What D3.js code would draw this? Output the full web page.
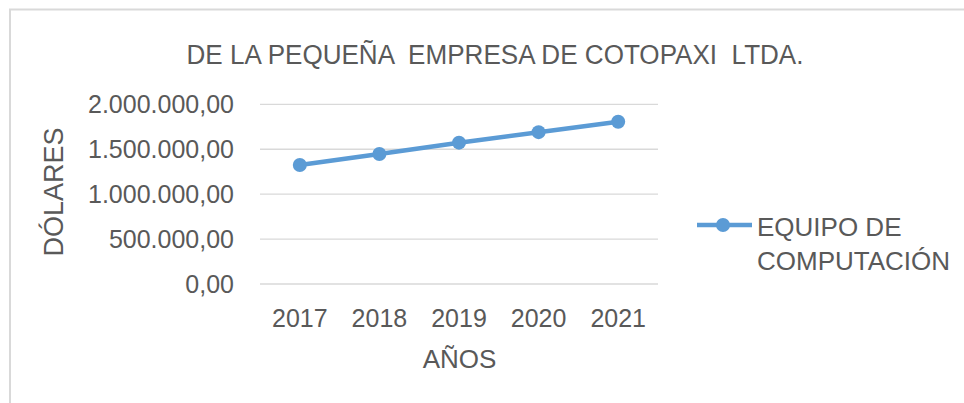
<!DOCTYPE html>
<html>
<head>
<meta charset="utf-8">
<script src="https://cdn.jsdelivr.net/npm/d3@7"></script>
<style>
  body { margin: 0; background: #ffffff; }
  text { font-family: "Liberation Sans", Arial, sans-serif; fill: #595959; }
  .title { white-space: pre; }
</style>
</head>
<body>
<svg id="chart"></svg>
<script>
// data
var years = ["2017", "2018", "2019", "2020", "2021"];
var equipo = [1325000, 1447000, 1573000, 1690000, 1806000];
var yTicks = [0, 500000, 1000000, 1500000, 2000000];
var seriesName = ["EQUIPO DE", "COMPUTACIÓN"];
var chartTitle = "DE LA PEQUEÑA  EMPRESA DE COTOPAXI  LTDA.";

var screen = { width: 964, height: 403 };
var plot = { left: 260, right: 658, top: 104.3, bottom: 284 };

var svg = d3.select("#chart")
  .attr("width", screen.width)
  .attr("height", screen.height);

// outer frame (only top & left visible)
svg.append("path")
  .attr("d", "M10,403 L10,9.5 L964,9.5")
  .attr("fill", "none")
  .attr("stroke", "#d9d9d9")
  .attr("stroke-width", 2);

var xScale = d3.scaleBand().domain(years).range([plot.left, plot.right]);
var yScale = d3.scaleLinear().domain([0, 2000000]).range([plot.bottom, plot.top]);

var es = d3.formatLocale({ decimal: ",", thousands: ".", grouping: [3], currency: ["$", ""] });
var fmt = es.format(",.2f");

// gridlines
svg.append("g").classed("grid", true)
  .selectAll("line")
  .data(yTicks)
  .enter()
  .append("line")
  .attr("x1", plot.left)
  .attr("x2", plot.right)
  .attr("y1", function (d) { return yScale(d); })
  .attr("y2", function (d) { return yScale(d); })
  .attr("stroke", "#d9d9d9")
  .attr("stroke-width", 1.3);

// y tick labels
svg.append("g").classed("ylabels", true)
  .selectAll("text")
  .data(yTicks)
  .enter()
  .append("text")
  .text(function (d) { return fmt(d); })
  .attr("x", 234)
  .attr("y", function (d) { return yScale(d) + 8.8; })
  .attr("text-anchor", "end")
  .attr("font-size", 25);

// x tick labels
svg.append("g").classed("xlabels", true)
  .selectAll("text")
  .data(years)
  .enter()
  .append("text")
  .text(function (d) { return d; })
  .attr("x", function (d) { return xScale(d) + xScale.bandwidth() / 2; })
  .attr("y", 326.7)
  .attr("text-anchor", "middle")
  .attr("font-size", 25);

// titles
svg.append("text")
  .classed("title", true)
  .text(chartTitle)
  .attr("x", 495)
  .attr("y", 63.5)
  .attr("text-anchor", "middle")
  .attr("font-size", 27)
  .attr("textLength", 617)
  .attr("lengthAdjust", "spacingAndGlyphs");

svg.append("text")
  .text("AÑOS")
  .attr("x", 459.5)
  .attr("y", 367.7)
  .attr("text-anchor", "middle")
  .attr("font-size", 26);

svg.append("g")
  .attr("transform", "translate(63,192)")
  .append("text")
  .text("DÓLARES")
  .attr("text-anchor", "middle")
  .attr("transform", "rotate(-90)")
  .attr("font-size", 27);

// series line + markers
var line = d3.line()
  .x(function (d, i) { return xScale(years[i]) + xScale.bandwidth() / 2; })
  .y(function (d) { return yScale(d); });

svg.append("path")
  .datum(equipo)
  .attr("d", line)
  .attr("fill", "none")
  .attr("stroke", "#5b9bd5")
  .attr("stroke-width", 4.5)
  .attr("stroke-linejoin", "round");

svg.append("g").classed("points", true)
  .selectAll("circle")
  .data(equipo)
  .enter()
  .append("circle")
  .attr("cx", function (d, i) { return xScale(years[i]) + xScale.bandwidth() / 2; })
  .attr("cy", function (d) { return yScale(d); })
  .attr("r", 7)
  .attr("fill", "#5b9bd5");

// legend
var legend = svg.append("g").classed("legend", true);
legend.append("line")
  .attr("x1", 697).attr("x2", 752)
  .attr("y1", 225).attr("y2", 225)
  .attr("stroke", "#5b9bd5")
  .attr("stroke-width", 4.5);
legend.append("circle")
  .attr("cx", 723).attr("cy", 225).attr("r", 7)
  .attr("fill", "#5b9bd5");
legend.selectAll("text.entry")
  .data(seriesName)
  .enter()
  .append("text")
  .classed("entry", true)
  .text(function (d) { return d; })
  .attr("x", 757)
  .attr("y", function (d, i) { return 236 + i * 34; })
  .attr("font-size", 26);
</script>
</body>
</html>
